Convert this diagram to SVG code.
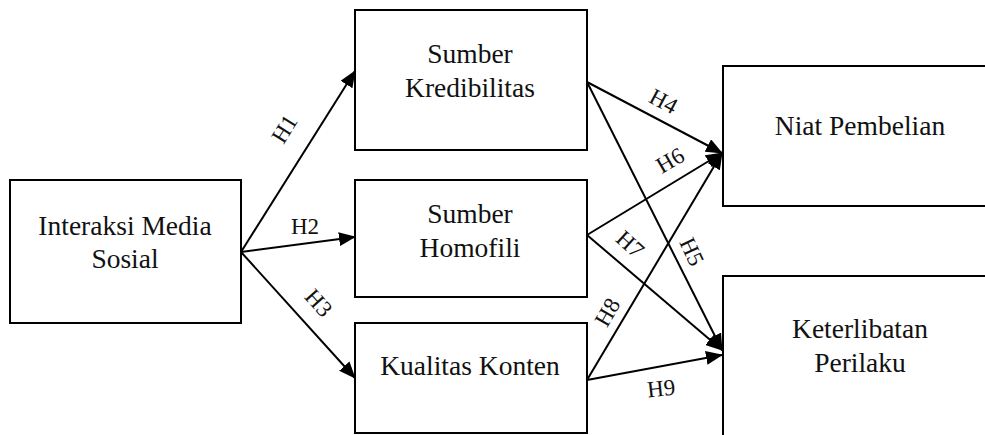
<svg xmlns="http://www.w3.org/2000/svg" width="985" height="435" viewBox="0 0 985 435">
<defs>
<style>
.box{fill:#fff;stroke:#000;stroke-width:2}
.t{font-family:"Liberation Serif","Times New Roman",serif;font-size:27.5px;fill:#111;text-anchor:middle}
.h{font-family:"Liberation Serif","Times New Roman",serif;font-size:23px;fill:#111;text-anchor:middle}
.c{stroke:#000;stroke-width:2;fill:none;marker-end:url(#ah)}
</style>
<marker id="ah" markerUnits="userSpaceOnUse" markerWidth="17" markerHeight="14" refX="16" refY="7" orient="auto">
<path d="M0,0 L17,7 L0,14 Z" fill="#000"/>
</marker>
</defs>
<g id="n-interaksi">
<rect class="box" x="10" y="180" width="231" height="143"/>
<text class="t" x="125" y="235">Interaksi Media</text>
<text class="t" x="125" y="268">Sosial</text>
</g>
<g id="n-kredibilitas">
<rect class="box" x="355" y="10" width="232" height="140"/>
<text class="t" x="470" y="63">Sumber</text>
<text class="t" x="470" y="97">Kredibilitas</text>
</g>
<g id="n-homofili">
<rect class="box" x="355" y="180" width="232" height="117"/>
<text class="t" x="470" y="223">Sumber</text>
<text class="t" x="470" y="257">Homofili</text>
</g>
<g id="n-kualitas">
<rect class="box" x="355" y="323" width="232" height="110"/>
<text class="t" x="470" y="375">Kualitas Konten</text>
</g>
<g id="n-niat">
<rect class="box" x="723" y="66" width="280" height="140"/>
<text class="t" x="860" y="135">Niat Pembelian</text>
</g>
<g id="n-keterlibatan">
<rect class="box" x="723" y="276" width="280" height="180"/>
<text class="t" x="860" y="338">Keterlibatan</text>
<text class="t" x="860" y="372">Perilaku</text>
</g>
<g id="connectors">
<line class="c" x1="241" y1="252" x2="355" y2="71"/>
<line class="c" x1="241" y1="252" x2="355" y2="237"/>
<line class="c" x1="241" y1="252" x2="355" y2="378"/>
<line class="c" x1="587" y1="82" x2="722" y2="153"/>
<line class="c" x1="587" y1="82" x2="722" y2="350"/>
<line class="c" x1="587" y1="235" x2="722" y2="153"/>
<line class="c" x1="587" y1="235" x2="722" y2="350"/>
<line class="c" x1="587" y1="380" x2="722" y2="153"/>
<line class="c" x1="587" y1="380" x2="722" y2="355"/>
<text class="h" transform="translate(291,133) rotate(-58)">H1</text>
<text class="h" x="305" y="234">H2</text>
<text class="h" transform="translate(313,308) rotate(48)">H3</text>
<text class="h" transform="translate(660,108) rotate(28)">H4</text>
<text class="h" transform="translate(674,167) rotate(-30)">H6</text>
<text class="h" transform="translate(685,255) rotate(65)">H5</text>
<text class="h" transform="translate(625,250) rotate(42)">H7</text>
<text class="h" transform="translate(614,316) rotate(-60)">H8</text>
<text class="h" transform="translate(662,396) rotate(-6)">H9</text>
</g>
</svg>
